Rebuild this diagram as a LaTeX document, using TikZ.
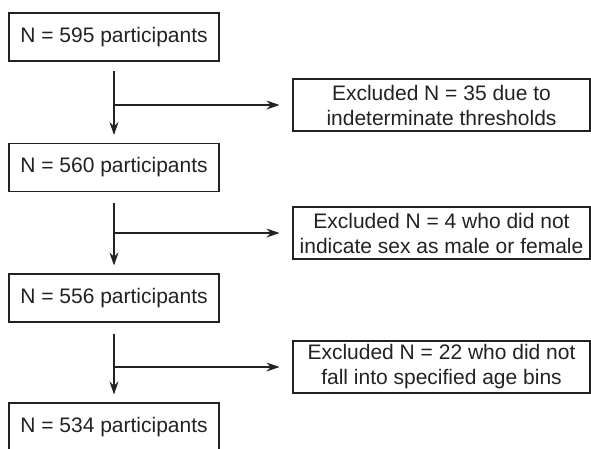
\documentclass[tikz,border=0pt]{standalone}
\usepackage{fontspec}
\setmainfont{Liberation Sans}
\usetikzlibrary{arrows.meta}
\definecolor{linegray}{HTML}{222222}
\begin{document}
\begin{tikzpicture}[x=1pt,y=1pt,
	stage/.style={rectangle,draw=linegray,line width=1.1pt,minimum width=210pt,minimum height=48pt,inner sep=0pt,text=linegray,font=\fontsize{21}{25}\selectfont},
	excl/.style={rectangle,draw=linegray,line width=1.1pt,minimum width=297pt,minimum height=52pt,inner sep=0pt,align=center,text=linegray,font=\fontsize{21}{25}\selectfont},
	flow/.style={-{Stealth[length=13pt,width=9pt]},draw=linegray,line width=1.1pt}]
				\useasboundingbox (0,0) rectangle (591,-448);
				\node[stage] (p595) at (114,-37) {N = 595 participants};
				\node[stage] (p560) at (114,-167.5) {N = 560 participants};
				\node[stage] (p556) at (114,-298) {N = 556 participants};
				\node[stage] (p534) at (114,-427) {N = 534 participants};
				\node[excl] (ex1) at (441.5,-105) {Excluded N = 35 due to\\indeterminate thresholds};
				\node[excl] (ex2) at (441.5,-233) {Excluded N = 4 who did not\\indicate sex as male or female};
				\node[excl] (ex3) at (441.5,-367) {Excluded N = 22 who did not\\fall into specified age bins};
				\coordinate (j1) at (p595.south |- ex1.west);
				\coordinate (j2) at (p560.south |- ex2.west);
				\coordinate (j3) at (p556.south |- ex3.west);
				\path[flow,shorten <=9pt,shorten >=8pt] (p595) -- (p560);
				\path[flow,shorten <=11pt,shorten >=8pt] (p560) -- (p556);
				\path[flow,shorten <=11pt,shorten >=8pt] (p556) -- (p534);
				\path[flow,shorten >=13pt] (j1) -- (ex1);
				\path[flow,shorten >=13pt] (j2) -- (ex2);
				\path[flow,shorten >=13pt] (j3) -- (ex3);
			\end{tikzpicture}
\end{document}
